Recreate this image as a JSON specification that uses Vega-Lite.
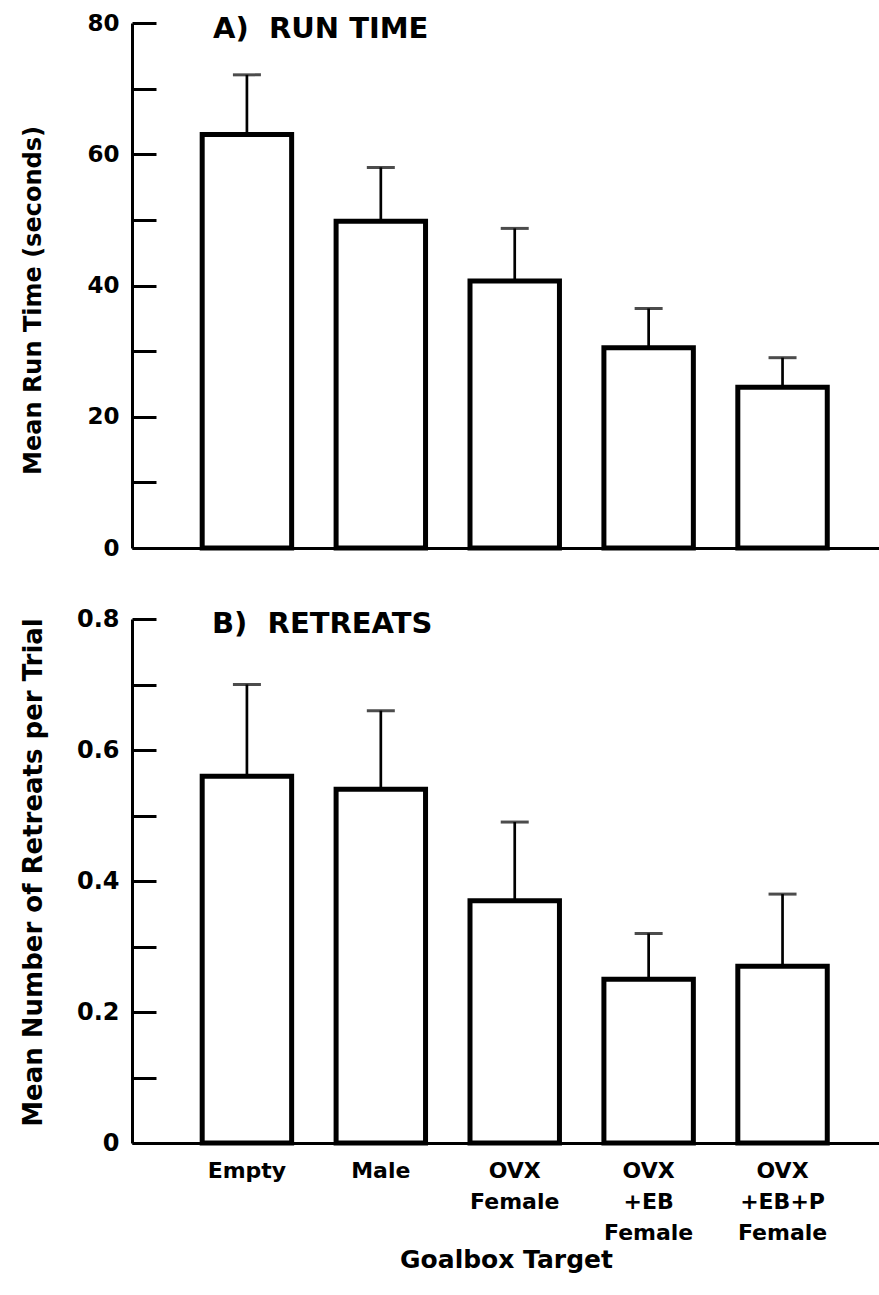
{
  "$schema": "https://vega.github.io/schema/vega-lite/v6.json",
  "background": "white",
  "padding": {"left": 19, "top": 12, "right": 0, "bottom": 5},
  "bounds": "flush",
  "spacing": 71,
  "config": {
    "font": "DejaVu Sans",
    "view": {"stroke": null},
    "axis": {
      "domainColor": "black",
      "tickColor": "black",
      "labelColor": "black",
      "titleColor": "black",
      "grid": false,
      "labelFont": "DejaVu Sans",
      "titleFont": "DejaVu Sans",
      "labelFontWeight": "bold",
      "titleFontWeight": "bold"
    }
  },
  "data": {
    "values": [
      {"target": "Empty", "run": 63.0, "run_hi": 72.1, "ret": 0.56, "ret_hi": 0.70},
      {"target": "Male", "run": 49.8, "run_hi": 58.0, "ret": 0.54, "ret_hi": 0.66},
      {"target": "OVX|Female", "run": 40.7, "run_hi": 48.7, "ret": 0.37, "ret_hi": 0.49},
      {"target": "OVX|+EB|Female", "run": 30.5, "run_hi": 36.5, "ret": 0.25, "ret_hi": 0.32},
      {"target": "OVX|+EB+P|Female", "run": 24.5, "run_hi": 29.0, "ret": 0.27, "ret_hi": 0.38}
    ]
  },
  "vconcat": [
    {
      "width": 748,
      "height": 525,
      "title": {"text": "A)\u00a0\u00a0RUN TIME", "anchor": "start", "frame": "group", "dx": 81, "offset": -46, "baseline": "middle", "fontSize": 29, "fontWeight": "bold", "font": "DejaVu Sans", "color": "black"},
      "encoding": {
        "x": {
          "field": "target", "type": "nominal", "sort": null,
          "scale": {"paddingInner": 0.332, "paddingOuter": 0.459, "align": 0.571},
          "axis": {"title": null, "labels": false, "ticks": false, "domainWidth": 3}
        }
      },
      "layer": [
        {
          "mark": {"type": "bar", "fill": "white", "stroke": "black", "strokeWidth": 5},
          "encoding": {
            "y": {
              "field": "run", "type": "quantitative",
              "scale": {"domain": [0, 80], "nice": false},
              "axis": {
                "title": "Mean Run Time (seconds)",
                "values": [0, 10, 20, 30, 40, 50, 60, 70, 80],
                "labelExpr": "datum.value % 20 === 0 ? datum.label : ''",
                "tickSize": -24, "tickWidth": 3, "domainWidth": 3,
                "labelPadding": 37, "labelFontSize": 23, "labelFlush": false,
                "titleFontSize": 24, "titleX": -99, "titleY": 277, "titleBaseline": "middle"
              }
            }
          }
        },
        {
          "mark": {"type": "rule", "strokeWidth": 2.7, "color": "black"},
          "encoding": {"y": {"field": "run", "type": "quantitative"}, "y2": {"field": "run_hi"}}
        },
        {
          "mark": {"type": "tick", "thickness": 3, "size": 28, "color": "black"},
          "encoding": {"y": {"field": "run_hi", "type": "quantitative"}}
        }
      ]
    },
    {
      "width": 748,
      "height": 524,
      "title": {"text": "B)\u00a0\u00a0RETREATS", "anchor": "start", "frame": "group", "dx": 80, "offset": -46, "baseline": "middle", "fontSize": 29, "fontWeight": "bold", "font": "DejaVu Sans", "color": "black"},
      "encoding": {
        "x": {
          "field": "target", "type": "nominal", "sort": null,
          "scale": {"paddingInner": 0.332, "paddingOuter": 0.459, "align": 0.571},
          "axis": {
            "title": "Goalbox Target",
            "labelExpr": "split(datum.label, '|')",
            "ticks": false, "labelAngle": 0, "labelPadding": 17, "labelLineHeight": 31,
            "labelFontSize": 22, "labelBaseline": "top", "domainWidth": 3,
            "titleFontSize": 25, "titleY": 124, "titleBaseline": "alphabetic"
          }
        }
      },
      "layer": [
        {
          "mark": {"type": "bar", "fill": "white", "stroke": "black", "strokeWidth": 5},
          "encoding": {
            "y": {
              "field": "ret", "type": "quantitative",
              "scale": {"domain": [0, 0.8], "nice": false},
              "axis": {
                "title": "Mean Number of Retreats per Trial",
                "values": [0, 0.1, 0.2, 0.3, 0.4, 0.5, 0.6, 0.7, 0.8],
                "format": "~g",
                "labelExpr": "round(datum.value * 10) % 2 === 0 ? datum.label : ''",
                "tickSize": -24, "tickWidth": 3, "domainWidth": 3,
                "labelPadding": 37, "labelFontSize": 24, "labelFlush": false,
                "titleFontSize": 26, "titleX": -99, "titleY": 253, "titleBaseline": "middle"
              }
            }
          }
        },
        {
          "mark": {"type": "rule", "strokeWidth": 2.7, "color": "black"},
          "encoding": {"y": {"field": "ret", "type": "quantitative"}, "y2": {"field": "ret_hi"}}
        },
        {
          "mark": {"type": "tick", "thickness": 3, "size": 28, "color": "black"},
          "encoding": {"y": {"field": "ret_hi", "type": "quantitative"}}
        }
      ]
    }
  ]
}
